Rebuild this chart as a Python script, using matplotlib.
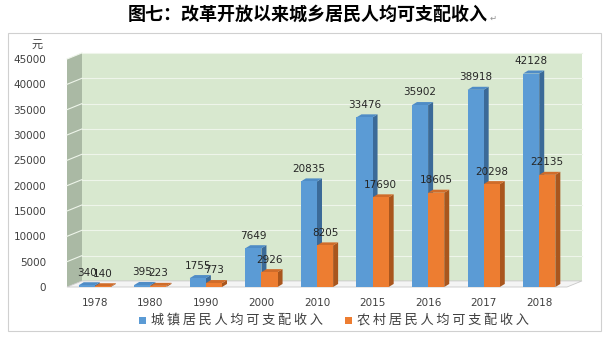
import matplotlib.pyplot as plt
import numpy as np
from matplotlib.patches import Rectangle, Polygon

plt.rcParams['font.family'] = ['DejaVu Sans', 'Noto Sans CJK SC']

years = ['1978', '1980', '1990', '2000', '2010', '2015', '2016', '2017', '2018']
urban = [340, 395, 1755, 7649, 20835, 33476, 35902, 38918, 42128]
rural = [140, 223, 773, 2926, 8205, 17690, 18605, 20298, 22135]
yticks = list(range(0, 45001, 5000))
title = '图七：改革开放以来城乡居民人均可支配收入'
urban_name = '城镇居民人均可支配收入'
rural_name = '农村居民人均可支配收入'

W, H = 607, 338
fig = plt.figure(figsize=(W / 100, H / 100), dpi=100)

# chart border
fig.patches.append(Rectangle((8 / W, 7 / H), 593 / W, 298 / H, transform=fig.transFigure,
                             fill=False, edgecolor='#d0d0d0', lw=0.8))

ax = fig.add_axes([67 / W, 51 / H, 500 / W, 228 / H])
ax.set_xlim(-0.5, 8.5)
ax.set_ylim(0, 45000)
ax.patch.set_alpha(0)
for s in ax.spines.values():
    s.set_visible(False)

x = np.arange(len(years))
ymax = 45000
wdx, wdy = 0.27, 1200      # wall depth offset
bdx, bdy = 0.09, 600       # bar depth offset
w = 0.29

wall_c = '#d8e8cf'
side_c = '#aab9a4'
grid_c = '#eef5ea'

# back wall
ax.add_patch(Rectangle((-0.5 + wdx, wdy), 9, ymax, facecolor=wall_c, edgecolor='none',
                       clip_on=False, zorder=0))
# left side wall
ax.add_patch(Polygon([(-0.5, 0), (-0.5 + wdx, wdy), (-0.5 + wdx, ymax + wdy), (-0.5, ymax)],
                     facecolor=side_c, edgecolor='none', clip_on=False, zorder=0))
# floor
ax.add_patch(Polygon([(-0.5, 0), (8.5, 0), (8.5 + wdx, wdy), (-0.5 + wdx, wdy)],
                     facecolor='#f4f4f4', edgecolor='#c8c8c8', lw=0.6, clip_on=False, zorder=0))
for v in yticks[1:]:
    ax.plot([-0.5 + wdx, 8.5 + wdx], [v + wdy, v + wdy], color=grid_c, lw=0.8,
            clip_on=False, zorder=0.5)
    ax.plot([-0.5, -0.5 + wdx], [v, v + wdy], color=grid_c, lw=0.8, clip_on=False, zorder=0.5)


def bar3d(xl, vals, front, side, top):
    ax.bar(xl, vals, width=w, align='edge', color=front, zorder=2)
    for xi, v in zip(xl, vals):
        xr = xi + w
        ax.add_patch(Polygon([(xr, 0), (xr + bdx, bdy), (xr + bdx, v + bdy), (xr, v)],
                             facecolor=side, edgecolor='none', zorder=1.5, clip_on=False))
        ax.add_patch(Polygon([(xi, v), (xi + bdx, v + bdy), (xr + bdx, v + bdy), (xr, v)],
                             facecolor=top, edgecolor='none', zorder=1.5, clip_on=False))


bar3d(x - w, urban, '#5b9bd5', '#3b6a98', '#4f8cc6')
bar3d(x, rural, '#ed7d31', '#a9561d', '#d06c2a')

for xi, v in zip(x, urban):
    ax.text(xi - w / 2, v + 1500, str(v), ha='center', va='bottom', fontsize=7.5,
            color='#262626', zorder=3)
for xi, v in zip(x, rural):
    ax.text(xi + w / 2, v + 1500, str(v), ha='center', va='bottom', fontsize=7.5,
            color='#262626', zorder=3)

ax.set_xticks(x)
ax.set_xticklabels(years, fontsize=7.5, color='#404040')
ax.set_yticks(yticks)
ax.set_yticklabels([str(v) for v in yticks], fontsize=7.5, color='#404040')
ax.tick_params(axis='both', length=0)
ax.tick_params(axis='y', pad=15)
ax.tick_params(axis='x', pad=8)

fig.text(37 / W, 1 - 45 / H, '元', fontsize=8, color='#404040', ha='center', va='center',
         family=['Noto Sans CJK SC'])

fig.text(308 / W, 1 - 14 / H, title, fontsize=13, fontweight='bold', ha='center', va='center',
         family=['Noto Sans CJK SC', 'DejaVu Sans'])
fig.text(490 / W, 1 - 18 / H, '↵', fontsize=6, color='#909090', ha='left', va='center')

# legend
fig.patches.append(Rectangle((139 / W, 1 - 324 / H), 7 / W, 7 / H, transform=fig.transFigure,
                             facecolor='#5b9bd5', edgecolor='none'))
fig.text(151 / W, 1 - 320 / H, '\u2009'.join(urban_name), fontsize=9.5, color='#404040',
         ha='left', va='center', family=['Noto Sans CJK SC', 'DejaVu Sans'])
fig.patches.append(Rectangle((345 / W, 1 - 324 / H), 7 / W, 7 / H, transform=fig.transFigure,
                             facecolor='#ed7d31', edgecolor='none'))
fig.text(357 / W, 1 - 320 / H, '\u2009'.join(rural_name), fontsize=9.5, color='#404040',
         ha='left', va='center', family=['Noto Sans CJK SC', 'DejaVu Sans'])

fig.savefig('out.png', dpi=100)
